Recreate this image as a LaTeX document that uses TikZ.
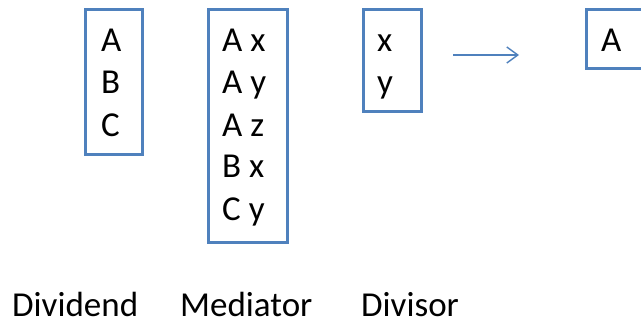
\documentclass[tikz,border=0pt]{standalone}
\usepackage{fontspec}
\setmainfont{Carlito}
\usetikzlibrary{arrows.meta}
\definecolor{officeblue}{RGB}{79,129,189}
\begin{document}
\begin{tikzpicture}[x=1pt,y=-1pt,
  box/.style={draw=officeblue, line width=3pt, fill=white, anchor=north west, inner sep=0pt, outer sep=0pt},
  txt/.style={anchor=base west, inner sep=0pt, font=\fontsize{35}{42}\selectfont},
  flow/.style={draw=officeblue, line width=1.4pt, -{Straight Barb[length=11pt,width=16pt,line width=1.4pt]}}]
\clip (0,0) rectangle (641,321);
\fill[white] (0,0) rectangle (641,321);
% boxes
\node[box, minimum width=57pt, minimum height=145pt] (dividend) at (85,10) {};
\node[box, minimum width=79pt, minimum height=232pt] (mediator) at (208,10) {};
\node[box, minimum width=58pt, minimum height=102pt] (divisor) at (363,10) {};
\node[box, minimum width=80pt, minimum height=59pt] (result) at (586,10) {};
% dividend text
\node[txt] (d1) at (101,52) {A};
\node[txt] (d2) at (101,94) {B};
\node[txt] (d3) at (101,136) {C};
% mediator text
\node[txt] (m1) at (222,52) {A x};
\node[txt] (m2) at (222,94) {A y};
\node[txt] (m3) at (222,136) {A z};
\node[txt] (m4) at (222,178) {B x};
\node[txt] (m5) at (222,220) {C y};
% divisor text
\node[txt] (v1) at (377,52) {x};
\node[txt] (v2) at (377,94) {y};
% result
\node[txt] (r1) at (601,52) {A};
% arrow
\coordinate (a1) at (453,55);
\coordinate (a2) at (519,55);
\draw[flow] (a1) -- (a2);
% labels
\node[txt] (l1) at (12,316) {Dividend};
\node[txt] (l2) at (180,316) {Mediator};
\node[txt] (l3) at (361,316) {Divisor};
\end{tikzpicture}
\end{document}
